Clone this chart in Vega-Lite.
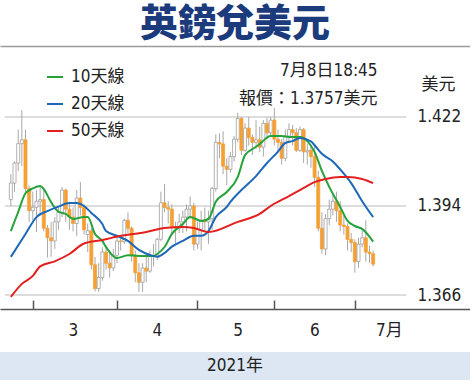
{
  "$schema": "https://vega.github.io/schema/vega-lite/v6.json",
  "background": "white",
  "padding": {"left": 0, "top": 6, "right": 0, "bottom": 0},
  "config": {"view": {"stroke": null}, "font": "Liberation Sans Narrow, DejaVu Sans Condensed, Liberation Sans, Noto Sans CJK TC"},
  "title": {"text": "英鎊兌美元", "font": "Noto Sans CJK TC", "fontSize": 38, "fontWeight": 900, "color": "#1b3b7d", "anchor": "middle", "offset": 2},
  "spacing": 14,
  "vconcat": [
    {
      "width": 470,
      "height": 263,
      "data": {"values": [
        {"d":"2021-02-19","o":1.3960,"h":1.4040,"l":1.3940,"c":1.4012,"m10":1.3861,"m20":1.3780,"m50":1.3654},
        {"d":"2021-02-22","o":1.4012,"h":1.4080,"l":1.3985,"c":1.4075},
        {"d":"2021-02-23","o":1.4075,"h":1.4180,"l":1.4050,"c":1.4136,"m10":1.3921},
        {"d":"2021-02-24","o":1.4136,"h":1.4241,"l":1.4065,"c":1.4148,"m50":1.3695},
        {"d":"2021-02-25","o":1.4148,"h":1.4180,"l":1.3975,"c":1.3995,"m10":1.3980,"m20":1.3852},
        {"d":"2021-02-26","o":1.3995,"h":1.4005,"l":1.3890,"c":1.3925},
        {"d":"2021-03-01","o":1.3925,"h":1.3985,"l":1.3895,"c":1.3936,"m10":1.3995,"m50":1.3720},
        {"d":"2021-03-02","o":1.3936,"h":1.3990,"l":1.3858,"c":1.3955,"m20":1.3905},
        {"d":"2021-03-03","o":1.3955,"h":1.4002,"l":1.3910,"c":1.3960,"m10":1.4003,"m50":1.3750},
        {"d":"2021-03-04","o":1.3960,"h":1.3990,"l":1.3860,"c":1.3870,"m10":1.3993},
        {"d":"2021-03-05","o":1.3870,"h":1.3880,"l":1.3778,"c":1.3840,"m20":1.3924},
        {"d":"2021-03-08","o":1.3840,"h":1.3890,"l":1.3780,"c":1.3830,"m10":1.3952},
        {"d":"2021-03-09","o":1.3830,"h":1.3905,"l":1.3805,"c":1.3890,"m50":1.3766},
        {"d":"2021-03-10","o":1.3890,"h":1.3935,"l":1.3865,"c":1.3920,"m10":1.3922,"m20":1.3938},
        {"d":"2021-03-11","o":1.3920,"h":1.4000,"l":1.3905,"c":1.3990},
        {"d":"2021-03-12","o":1.3990,"h":1.3995,"l":1.3890,"c":1.3930,"m10":1.3915},
        {"d":"2021-03-15","o":1.3930,"h":1.3950,"l":1.3865,"c":1.3905,"m20":1.3949,"m50":1.3789},
        {"d":"2021-03-16","o":1.3905,"h":1.3935,"l":1.3860,"c":1.3885,"m10":1.3899},
        {"d":"2021-03-17","o":1.3885,"h":1.3990,"l":1.3845,"c":1.3965,"m20":1.3949},
        {"d":"2021-03-18","o":1.3965,"h":1.4015,"l":1.3910,"c":1.3935},
        {"d":"2021-03-19","o":1.3935,"h":1.3945,"l":1.3850,"c":1.3865,"m10":1.3905,"m20":1.3940,"m50":1.3822},
        {"d":"2021-03-22","o":1.3850,"h":1.3885,"l":1.3795,"c":1.3862,"m10":1.3905},
        {"d":"2021-03-23","o":1.3862,"h":1.3870,"l":1.3740,"c":1.3755,"m20":1.3918},
        {"d":"2021-03-24","o":1.3755,"h":1.3780,"l":1.3671,"c":1.3680,"m10":1.3852},
        {"d":"2021-03-25","o":1.3680,"h":1.3760,"l":1.3670,"c":1.3715},
        {"d":"2021-03-26","o":1.3715,"h":1.3810,"l":1.3705,"c":1.3795,"m10":1.3830,"m20":1.3883,"m50":1.3833},
        {"d":"2021-03-29","o":1.3795,"h":1.3815,"l":1.3740,"c":1.3760,"m10":1.3811,"m20":1.3861},
        {"d":"2021-03-30","o":1.3760,"h":1.3800,"l":1.3715,"c":1.3745},
        {"d":"2021-03-31","o":1.3745,"h":1.3805,"l":1.3735,"c":1.3785},
        {"d":"2021-04-01","o":1.3785,"h":1.3850,"l":1.3760,"c":1.3830,"m10":1.3776,"m20":1.3846},
        {"d":"2021-04-02","o":1.3830,"h":1.3845,"l":1.3800,"c":1.3828,"m50":1.3846},
        {"d":"2021-04-05","o":1.3828,"h":1.3900,"l":1.3820,"c":1.3895},
        {"d":"2021-04-06","o":1.3895,"h":1.3920,"l":1.3855,"c":1.3870,"m10":1.3785,"m20":1.3830},
        {"d":"2021-04-07","o":1.3870,"h":1.3875,"l":1.3765,"c":1.3785},
        {"d":"2021-04-08","o":1.3785,"h":1.3800,"l":1.3700,"c":1.3730},
        {"d":"2021-04-09","o":1.3730,"h":1.3760,"l":1.3670,"c":1.3700,"m10":1.3783,"m20":1.3802},
        {"d":"2021-04-12","o":1.3700,"h":1.3760,"l":1.3670,"c":1.3745},
        {"d":"2021-04-13","o":1.3745,"h":1.3790,"l":1.3700,"c":1.3735,"m50":1.3858},
        {"d":"2021-04-14","o":1.3735,"h":1.3800,"l":1.3730,"c":1.3785,"m20":1.3786},
        {"d":"2021-04-15","o":1.3785,"h":1.3820,"l":1.3750,"c":1.3782,"m10":1.3783},
        {"d":"2021-04-16","o":1.3782,"h":1.3840,"l":1.3770,"c":1.3835,"m10":1.3789,"m20":1.3780},
        {"d":"2021-04-19","o":1.3835,"h":1.3985,"l":1.3830,"c":1.3950},
        {"d":"2021-04-20","o":1.3950,"h":1.4009,"l":1.3920,"c":1.3935,"m10":1.3811,"m20":1.3792,"m50":1.3871},
        {"d":"2021-04-21","o":1.3935,"h":1.3955,"l":1.3885,"c":1.3930},
        {"d":"2021-04-22","o":1.3930,"h":1.3945,"l":1.3850,"c":1.3875,"m10":1.3852,"m20":1.3812},
        {"d":"2021-04-23","o":1.3875,"h":1.3890,"l":1.3820,"c":1.3870},
        {"d":"2021-04-26","o":1.3870,"h":1.3915,"l":1.3855,"c":1.3890},
        {"d":"2021-04-27","o":1.3890,"h":1.3925,"l":1.3855,"c":1.3905,"m10":1.3883,"m20":1.3830,"m50":1.3874},
        {"d":"2021-04-28","o":1.3905,"h":1.3945,"l":1.3860,"c":1.3930},
        {"d":"2021-04-29","o":1.3930,"h":1.3970,"l":1.3900,"c":1.3940,"m10":1.3905},
        {"d":"2021-04-30","o":1.3940,"h":1.3950,"l":1.3800,"c":1.3820,"m20":1.3846,"m50":1.3871},
        {"d":"2021-05-03","o":1.3820,"h":1.3890,"l":1.3805,"c":1.3865},
        {"d":"2021-05-04","o":1.3865,"h":1.3925,"l":1.3800,"c":1.3895,"m10":1.3893,"m20":1.3846},
        {"d":"2021-05-05","o":1.3895,"h":1.3935,"l":1.3860,"c":1.3890},
        {"d":"2021-05-06","o":1.3890,"h":1.3925,"l":1.3820,"c":1.3900,"m10":1.3899,"m20":1.3861,"m50":1.3858},
        {"d":"2021-05-07","o":1.3900,"h":1.4000,"l":1.3865,"c":1.3995},
        {"d":"2021-05-10","o":1.3995,"h":1.4165,"l":1.3985,"c":1.4140,"m10":1.3953,"m20":1.3905},
        {"d":"2021-05-11","o":1.4140,"h":1.4168,"l":1.4090,"c":1.4135},
        {"d":"2021-05-12","o":1.4135,"h":1.4175,"l":1.4040,"c":1.4065},
        {"d":"2021-05-13","o":1.4065,"h":1.4090,"l":1.4005,"c":1.4055,"m10":1.3984,"m20":1.3937},
        {"d":"2021-05-14","o":1.4055,"h":1.4110,"l":1.4045,"c":1.4095,"m20":1.3953},
        {"d":"2021-05-17","o":1.4095,"h":1.4160,"l":1.4080,"c":1.4150},
        {"d":"2021-05-18","o":1.4150,"h":1.4233,"l":1.4140,"c":1.4215,"m10":1.4031,"m50":1.3890},
        {"d":"2021-05-19","o":1.4215,"h":1.4220,"l":1.4100,"c":1.4115,"m20":1.3990},
        {"d":"2021-05-20","o":1.4115,"h":1.4200,"l":1.4110,"c":1.4185,"m10":1.4100},
        {"d":"2021-05-21","o":1.4185,"h":1.4220,"l":1.4130,"c":1.4155},
        {"d":"2021-05-24","o":1.4155,"h":1.4165,"l":1.4100,"c":1.4140},
        {"d":"2021-05-25","o":1.4140,"h":1.4210,"l":1.4120,"c":1.4148,"m10":1.4126,"m20":1.4034},
        {"d":"2021-05-26","o":1.4148,"h":1.4190,"l":1.4110,"c":1.4125,"m10":1.4135,"m50":1.3915},
        {"d":"2021-05-27","o":1.4125,"h":1.4210,"l":1.4095,"c":1.4200},
        {"d":"2021-05-28","o":1.4200,"h":1.4218,"l":1.4150,"c":1.4170,"m20":1.4075},
        {"d":"2021-05-31","o":1.4170,"h":1.4220,"l":1.4160,"c":1.4210,"m10":1.4160,"m50":1.3940},
        {"d":"2021-06-01","o":1.4210,"h":1.4249,"l":1.4130,"c":1.4150},
        {"d":"2021-06-02","o":1.4150,"h":1.4180,"l":1.4105,"c":1.4140,"m20":1.4111},
        {"d":"2021-06-03","o":1.4140,"h":1.4150,"l":1.4070,"c":1.4090,"m10":1.4160},
        {"d":"2021-06-04","o":1.4090,"h":1.4180,"l":1.4080,"c":1.4160,"m20":1.4138},
        {"d":"2021-06-07","o":1.4160,"h":1.4200,"l":1.4140,"c":1.4180,"m10":1.4157,"m50":1.3971},
        {"d":"2021-06-08","o":1.4180,"h":1.4195,"l":1.4130,"c":1.4170,"m20":1.4144},
        {"d":"2021-06-09","o":1.4170,"h":1.4185,"l":1.4110,"c":1.4115},
        {"d":"2021-06-10","o":1.4115,"h":1.4190,"l":1.4110,"c":1.4180,"m10":1.4157,"m20":1.4154,"m50":1.3990},
        {"d":"2021-06-11","o":1.4180,"h":1.4185,"l":1.4075,"c":1.4110},
        {"d":"2021-06-14","o":1.4110,"h":1.4135,"l":1.4070,"c":1.4115,"m10":1.4144},
        {"d":"2021-06-15","o":1.4115,"h":1.4130,"l":1.4060,"c":1.4095,"m20":1.4143},
        {"d":"2021-06-16","o":1.4095,"h":1.4130,"l":1.4000,"c":1.4030,"m10":1.4110,"m20":1.4131,"m50":1.4015},
        {"d":"2021-06-17","o":1.4030,"h":1.4050,"l":1.3860,"c":1.3870},
        {"d":"2021-06-18","o":1.3870,"h":1.3920,"l":1.3790,"c":1.3805,"m10":1.4050,"m20":1.4104},
        {"d":"2021-06-21","o":1.3805,"h":1.3915,"l":1.3785,"c":1.3900,"m50":1.4025},
        {"d":"2021-06-22","o":1.3900,"h":1.3960,"l":1.3880,"c":1.3930,"m10":1.4000},
        {"d":"2021-06-23","o":1.3930,"h":1.3975,"l":1.3910,"c":1.3955,"m20":1.4080},
        {"d":"2021-06-24","o":1.3955,"h":1.3985,"l":1.3890,"c":1.3925},
        {"d":"2021-06-25","o":1.3925,"h":1.3955,"l":1.3860,"c":1.3880,"m10":1.3937,"m20":1.4055,"m50":1.4031},
        {"d":"2021-06-28","o":1.3880,"h":1.3910,"l":1.3850,"c":1.3875},
        {"d":"2021-06-29","o":1.3875,"h":1.3885,"l":1.3800,"c":1.3835,"m10":1.3893,"m50":1.4031},
        {"d":"2021-06-30","o":1.3835,"h":1.3855,"l":1.3795,"c":1.3825,"m20":1.4012},
        {"d":"2021-07-01","o":1.3825,"h":1.3835,"l":1.3730,"c":1.3765,"m10":1.3877},
        {"d":"2021-07-02","o":1.3765,"h":1.3840,"l":1.3745,"c":1.3820},
        {"d":"2021-07-05","o":1.3820,"h":1.3870,"l":1.3810,"c":1.3840,"m10":1.3868,"m20":1.3955,"m50":1.4025},
        {"d":"2021-07-06","o":1.3840,"h":1.3895,"l":1.3765,"c":1.3795},
        {"d":"2021-07-07","o":1.3795,"h":1.3815,"l":1.3760,"c":1.3790},
        {"d":"2021-07-08","o":1.3790,"h":1.3800,"l":1.3750,"c":1.3757,"m10":1.3828,"m20":1.3905,"m50":1.4012}
      ]},
      "resolve": {"axis": {"x": "independent", "y": "independent"}},
      "layer": [
        {
          "data": {"values": [{"v": 1.366}, {"v": 1.394}, {"v": 1.422}]},
          "mark": {"type": "rule", "color": "#d2d2d2", "strokeWidth": 1.5},
          "encoding": {
            "y": {"field": "v", "type": "quantitative", "scale": {"domain": [1.3616, 1.4443], "zero": false, "nice": false},
              "axis": {"orient": "right", "values": [1.366, 1.394, 1.422], "format": ".3f", "domain": false, "ticks": false, "grid": false,
                "labelPadding": -53, "labelAlign": "left", "labelBaseline": "middle", "labelFontSize": 17, "labelColor": "#222222",
                "title": "美元", "titleAngle": 0, "titleAlign": "left", "titleBaseline": "middle", "titleX": -49, "titleY": 38,
                "titleFontSize": 17, "titleFontWeight": "normal", "titleColor": "#222222", "titleFont": "Noto Sans CJK TC"}},
            "x": {"datum": -0.6, "type": "quantitative", "scale": {"domain": [-0.6, 125.1], "zero": false, "nice": false}, "axis": null},
            "x2": {"datum": 109.05}
          }
        },
        {
          "transform": [{"window": [{"op": "row_number", "as": "n"}]}],
          "mark": {"type": "rule", "color": "#a8a8a8", "strokeWidth": 1},
          "encoding": {
            "x": {"field": "n", "type": "quantitative", "scale": {"domain": [-0.6, 125.1], "zero": false, "nice": false},
              "axis": {"orient": "bottom", "values": [7, 30, 52, 73, 95],
                "labelExpr": "datum.value == 7 ? '3' : datum.value == 30 ? '4' : datum.value == 52 ? '5' : datum.value == 73 ? '6' : '7月'",
                "domainColor": "#555555", "domainWidth": 1.5, "tickColor": "#555555", "tickWidth": 1.5, "tickSize": -9,
                "labelOffset": {"condition": {"test": "datum.value == 95", "value": 34}, "value": 40},
                "labelPadding": 22, "labelFontSize": 17, "labelColor": "#222222", "grid": false, "title": null, "labelFlush": false, "labelOverlap": false}},
            "y": {"field": "l", "type": "quantitative", "scale": {"domain": [1.3616, 1.4443], "zero": false, "nice": false}, "axis": null},
            "y2": {"field": "h"}
          }
        },
        {
          "transform": [{"window": [{"op": "row_number", "as": "n"}]}],
          "mark": {"type": "bar", "size": 3, "strokeWidth": 0.8},
          "encoding": {
            "x": {"field": "n", "type": "quantitative", "scale": {"domain": [-0.6, 125.1], "zero": false, "nice": false},
              "axis": {"orient": "top", "domain": true, "domainColor": "#9a9a9a", "domainWidth": 1.5, "ticks": false, "labels": false, "grid": false, "title": null}},
            "y": {"field": "o", "type": "quantitative", "scale": {"domain": [1.3616, 1.4443], "zero": false, "nice": false},
              "axis": {"orient": "right", "labels": false, "ticks": false, "domain": false, "grid": false,
                "title": ["7月8日18:45", "報價：1.3757美元"], "titleAngle": 0, "titleAlign": "right", "titleBaseline": "top",
                "titleX": -93, "titleY": 16, "titleLineHeight": 28, "titleFontSize": 17, "titleFontWeight": "normal", "titleColor": "#222222"}},
            "y2": {"field": "c"},
            "fill": {"condition": {"test": "datum.c < datum.o", "value": "#f5a033"}, "value": "#ffffff"},
            "stroke": {"condition": {"test": "datum.c < datum.o", "value": "#f5a033"}, "value": "#a0a0a0"}
          }
        },
        {
          "transform": [
            {"window": [{"op": "row_number", "as": "n"}]},
            {"fold": ["m10", "m20", "m50"], "as": ["k", "v"]},
            {"filter": "isValid(datum.v)"}
          ],
          "mark": {"type": "line", "strokeWidth": 2, "interpolate": "monotone"},
          "encoding": {
            "x": {"field": "n", "type": "quantitative", "scale": {"domain": [-0.6, 125.1], "zero": false, "nice": false}, "axis": null},
            "y": {"field": "v", "type": "quantitative", "scale": {"domain": [1.3616, 1.4443], "zero": false, "nice": false}, "axis": null},
            "color": {"field": "k", "type": "nominal", "scale": {"domain": ["m10", "m20", "m50"], "range": ["#25a23a", "#1d68b8", "#e3201f"]},
              "legend": {"orient": "none", "legendX": 46, "legendY": 22, "title": null, "padding": 0, "direction": "vertical",
                "symbolType": "stroke", "symbolSize": 256, "symbolStrokeWidth": 2, "labelFontSize": 17, "labelColor": "#222222",
                "labelOffset": 7, "rowPadding": 10,
                "labelExpr": "datum.label == 'm10' ? '10天線' : datum.label == 'm20' ? '20天線' : '50天線'"}}
          }
        }
      ]
    },
    {
      "width": 470,
      "height": 28,
      "view": {"fill": "#dde7f3", "stroke": null},
      "data": {"values": [{"t": "2021年"}]},
      "mark": {"type": "text", "fontSize": 17, "color": "#222222", "baseline": "middle"},
      "encoding": {"text": {"field": "t", "type": "nominal"}}
    }
  ]
}
